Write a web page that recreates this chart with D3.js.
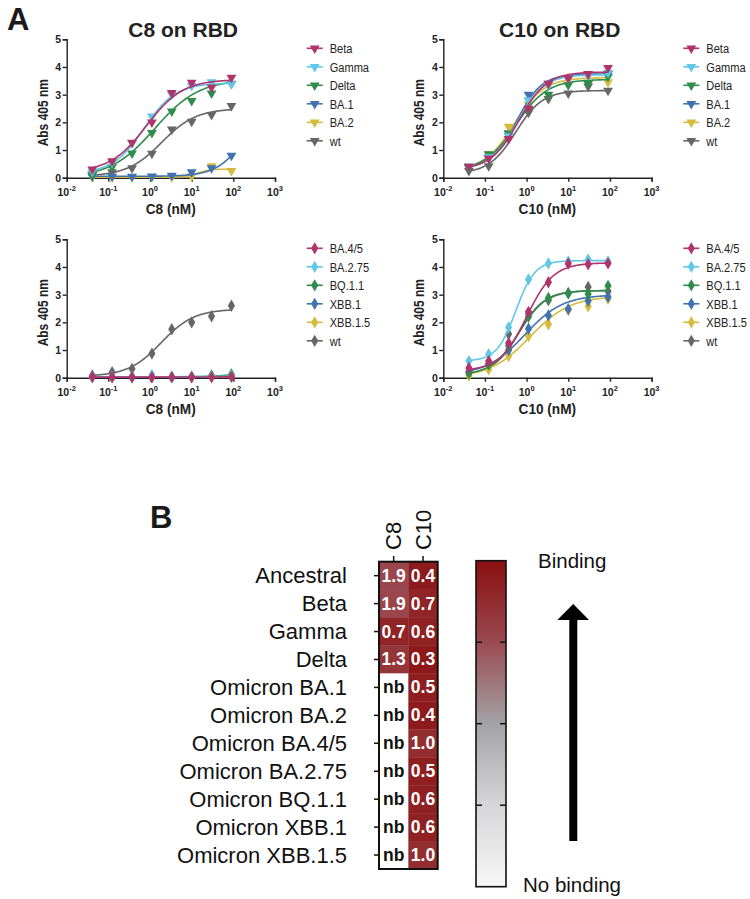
<!DOCTYPE html>
<html><head><meta charset="utf-8">
<script src="https://cdn.jsdelivr.net/npm/d3@7"></script>
<style>body{margin:0;background:#fff} svg{display:block} text{font-family:"Liberation Sans",Arial,Helvetica,sans-serif}</style>
</head><body><svg id="c" width="750" height="899"></svg>
<script>
// ---------- data ----------
const conc = [0.0412, 0.123, 0.37, 1.11, 3.33, 10, 30, 90];
const xTicks = [0.01, 0.1, 1, 10, 100, 1000];
const xTickExp = ["-2", "-1", "0", "1", "2", "3"];
const yTicks = [0, 1, 2, 3, 4, 5];
const colors = ["#b0346c", "#62c6e6", "#2f8c4c", "#3f72ae", "#d6bb3c", "#666666"];
const namesTop = ["Beta", "Gamma", "Delta", "BA.1", "BA.2", "wt"];
const namesBottom = ["BA.4/5", "BA.2.75", "BQ.1.1", "XBB.1", "XBB.1.5", "wt"];

// C8 on RBD
const c8Top = [
  [0.30, 0.60, 1.27, 2.00, 3.07, 3.44, 3.26, 3.62],
  [0.22, 0.55, 1.25, 2.22, 3.00, 3.32, 3.45, 3.38],
  [0.10, 0.38, 0.88, 1.62, 2.40, 2.78, 3.05, 3.40],
  [0.05, 0.04, 0.04, 0.05, 0.08, 0.20, 0.35, 0.80],
  [0.02, 0.02, 0.02, 0.03, 0.03, 0.06, 0.42, 0.25],
  [0.12, 0.20, 0.35, 0.87, 1.75, 2.03, 2.27, 2.60]
];
// fit parameters: bottom, top, EC50, hill
const c8TopFit = [[0.2, 3.55, 0.82, 1.0], [0.15, 3.42, 0.72, 1.15], [0.0, 3.55, 1.3, 0.82],
  [0.05, 3.0, 212, 1.25], [0.02, 0.31, 14, 3], [0.05, 2.5, 1.9, 1.05]];

// C10 on RBD
const c10Top = [
  [0.40, 0.70, 1.40, 2.50, 3.40, 3.60, 3.75, 3.97],
  [0.40, 0.75, 1.50, 2.80, 3.35, 3.60, 3.72, 3.80],
  [0.35, 0.85, 1.60, 2.45, 3.00, 3.35, 3.40, 3.65],
  [0.40, 0.70, 1.50, 3.00, 3.40, 3.60, 3.70, 3.75],
  [0.40, 0.85, 1.85, 2.65, 3.35, 3.55, 3.75, 3.45],
  [0.25, 0.42, 1.60, 2.35, 2.85, 3.05, 3.30, 3.15]
];
const c10TopFit = [[0.3, 3.82, 0.65, 1.3], [0.3, 3.72, 0.6, 1.35], [0.25, 3.55, 0.55, 1.15],
  [0.35, 3.75, 0.58, 1.45], [0.25, 3.62, 0.5, 1.2], [0.15, 3.15, 0.55, 1.35]];

// C8 on Omicron
const c8Bottom = [
  [0.03, 0.02, 0.02, 0.02, 0.02, 0.02, 0.02, 0.03],
  [0.04, 0.03, 0.03, 0.10, 0.03, 0.03, 0.04, 0.06],
  [0.03, 0.03, 0.03, 0.03, 0.03, 0.04, 0.08, 0.12],
  [0.03, 0.02, 0.02, 0.03, 0.02, 0.03, 0.05, 0.08],
  [0.02, 0.02, 0.02, 0.02, 0.02, 0.02, 0.03, 0.05],
  [0.08, 0.20, 0.32, 0.87, 1.75, 2.00, 2.22, 2.60]
];
const c8BottomFit = [[0.02, 0.03, 10, 1], [0.03, 0.05, 10, 1], [0.03, 0.3, 200, 1.2],
  [0.02, 0.2, 200, 1.2], [0.02, 0.1, 200, 1.2], [0.05, 2.48, 1.85, 1.1]];

// C10 on Omicron
const c10Bottom = [
  [0.35, 0.60, 1.25, 2.38, 3.45, 4.12, 4.10, 4.13],
  [0.60, 0.85, 1.82, 3.55, 4.13, 4.20, 4.27, 4.20],
  [0.15, 0.48, 1.15, 2.20, 2.88, 3.05, 3.02, 3.32],
  [0.20, 0.50, 1.00, 1.77, 2.25, 2.48, 2.78, 2.92],
  [0.08, 0.30, 0.78, 1.50, 1.93, 2.45, 2.58, 2.85],
  [0.22, 0.50, 1.58, 2.30, 2.80, 3.05, 3.28, 3.12]
];
const c10BottomFit = [[0.25, 4.15, 1.0, 1.35], [0.6, 4.23, 0.55, 1.9], [0.1, 3.15, 0.65, 1.35],
  [0.1, 3.0, 0.9, 0.95], [0.0, 2.95, 1.2, 0.9], [0.1, 3.15, 0.65, 1.4]];

// Heatmap (EC50, nM)
const variants = ["Ancestral", "Beta", "Gamma", "Delta", "Omicron BA.1", "Omicron BA.2",
  "Omicron BA.4/5", "Omicron BA.2.75", "Omicron BQ.1.1", "Omicron XBB.1", "Omicron XBB.1.5"];
const antibodies = ["C8", "C10"];
const ec50C8 = [1.9, 1.9, 0.7, 1.3, null, null, null, null, null, null, null];
const ec50C10 = [0.4, 0.7, 0.6, 0.3, 0.5, 0.4, 1.0, 0.5, 0.6, 0.6, 1.0];
const colorDomain = [0, 2, 4, 6, 8];
const colorRange = ["#8a0f10", "#9a4a50", "#a3a3a7", "#d6d6d8", "#f7f7f7"];

// ---------- drawing ----------
const svg = d3.select("#c");
const FONT = '"Liberation Sans",Arial,Helvetica,sans-serif';

function fourPL(p, x) { return p[0] + (p[1] - p[0]) / (1 + Math.pow(p[2] / x, p[3])); }

function panel(o) {
  const g = svg.append("g");
  const x = d3.scaleLog().domain([0.01, 1000]).range([o.x0, o.x0 + 208.3]);
  const y = d3.scaleLinear().domain([0, 5]).range([o.y0, o.y0 - 138.4]);

  // axes
  const xa = g.append("g").attr("transform", `translate(0,${o.y0})`)
    .call(d3.axisBottom(x).tickValues(xTicks).tickSize(4).tickFormat(""));
  const ya = g.append("g").attr("transform", `translate(${o.x0},0)`)
    .call(d3.axisLeft(y).tickValues(yTicks).tickSize(4).tickFormat(d3.format("d")));
  [xa, ya].forEach(a => {
    a.select(".domain").attr("stroke", "#222").attr("stroke-width", 1.4);
    a.selectAll(".tick line").attr("stroke", "#222").attr("stroke-width", 1.4);
  });
  ya.selectAll(".tick text").attr("font-family", FONT).attr("font-weight", "bold")
    .attr("font-size", 10.5).attr("fill", "#222").attr("x", -5.5);
  xTicks.forEach((t, i) => {
    const tx = g.append("text").attr("x", x(t)).attr("y", o.y0 + 18)
      .attr("text-anchor", "middle").attr("font-weight", "bold").attr("font-size", 10.5).attr("fill", "#222");
    tx.append("tspan").text("10");
    tx.append("tspan").attr("dy", -4.5).attr("font-size", 7.5).text(xTickExp[i]);
  });

  // labels
  g.append("text").attr("transform", `translate(${o.x0 + 104},${o.y0 + 36}) scale(0.88,1)`).attr("text-anchor", "middle")
    .attr("font-weight", "bold").attr("font-size", 15.5).attr("fill", "#222").text(o.xLabel);
  g.append("text").attr("transform", `translate(${o.x0 - 19},${o.y0 - 65}) rotate(-90) scale(0.8,1)`)
    .attr("text-anchor", "middle").attr("font-weight", "bold").attr("font-size", 15).attr("fill", "#222")
    .text("Abs 405 nm");
  if (o.title) g.append("text").attr("x", o.x0 + 116.5).attr("y", o.y0 - 141).attr("text-anchor", "middle")
    .attr("font-weight", "bold").attr("font-size", 21).attr("fill", "#222").text(o.title);

  const sym = o.diamond ? d3.symbol(d3.symbolDiamond, 44) : d3.symbol(d3.symbolTriangle, 42);
  const rot = o.diamond ? "" : " rotate(180)";
  const line = d3.line().x(d => x(d[0])).y(d => y(d[1]));
  const lx0 = Math.log10(0.041), lx1 = Math.log10(90);
  const xs = d3.range(0, 201).map(i => Math.pow(10, lx0 + (lx1 - lx0) * i / 200));

  // draw last series first so the first-listed series sits on top
  d3.range(o.values.length - 1, -1, -1).forEach(si => {
    const vals = o.values[si];
    const c = colors[si];
    g.append("path").attr("d", line(xs.map(v => [v, fourPL(o.fits[si], v)])))
      .attr("fill", "none").attr("stroke", c).attr("stroke-width", 1.6);
    g.selectAll(null).data(vals).enter().append("path")
      .attr("d", sym).attr("fill", c)
      .attr("transform", (d, i) => `translate(${x(conc[i])},${y(d)})${rot}`);
  });

  // legend
  o.names.forEach((n, i) => {
    const ly = o.y0 - 129.4 + i * 18.5;
    const lx = o.x0 + 248;
    g.append("line").attr("x1", lx - 8).attr("x2", lx + 8).attr("y1", ly).attr("y2", ly)
      .attr("stroke", colors[i]).attr("stroke-width", 1.6);
    g.append("path").attr("d", sym).attr("fill", colors[i]).attr("transform", `translate(${lx},${ly})${rot}`);
    g.append("text").attr("transform", `translate(${lx + 15},${ly + 4.8}) scale(0.82,1)`)
      .attr("font-size", 13.5).attr("fill", "#222").text(n);
  });
}

panel({ x0: 66.7, y0: 177.7, title: "C8 on RBD", xLabel: "C8 (nM)", names: namesTop, values: c8Top, fits: c8TopFit });
panel({ x0: 443.3, y0: 177.7, title: "C10 on RBD", xLabel: "C10 (nM)", names: namesTop, values: c10Top, fits: c10TopFit });
panel({ x0: 66.7, y0: 377.7, xLabel: "C8 (nM)", names: namesBottom, values: c8Bottom, fits: c8BottomFit, diamond: true });
panel({ x0: 443.3, y0: 377.7, xLabel: "C10 (nM)", names: namesBottom, values: c10Bottom, fits: c10BottomFit, diamond: true });

svg.append("text").attr("x", 7).attr("y", 30).attr("font-weight", "bold").attr("font-size", 31).attr("fill", "#1a1a1a").text("A");
svg.append("text").attr("x", 150).attr("y", 528).attr("font-weight", "bold").attr("font-size", 31).attr("fill", "#1a1a1a").text("B");

// ---------- heatmap ----------
const color = d3.scaleLinear().domain(colorDomain).range(colorRange).interpolate(d3.interpolateRgb);
const hx = d3.scaleBand().domain(antibodies).range([379, 437.7]);
const hy = d3.scaleBand().domain(variants).range([561.7, 869]);
const hg = svg.append("g");
const cols = [ec50C8, ec50C10];
cols.forEach((arr, ci) => {
  arr.forEach((v, ri) => {
    const ab = antibodies[ci], vr = variants[ri];
    hg.append("rect").attr("x", hx(ab)).attr("y", hy(vr)).attr("width", hx.bandwidth() + 0.3).attr("height", hy.bandwidth() + 0.3)
      .attr("fill", v == null ? "#ffffff" : color(v));
    hg.append("text").attr("x", hx(ab) + hx.bandwidth() / 2).attr("y", hy(vr) + hy.bandwidth() / 2 + 6)
      .attr("text-anchor", "middle").attr("font-weight", "bold").attr("font-size", 17.5)
      .attr("fill", v == null ? "#111" : "#ffffff").text(v == null ? "nb" : v.toFixed(1));
  });
});
hg.append("rect").attr("x", 379).attr("y", 561.7).attr("width", 58.7).attr("height", 307.3)
  .attr("fill", "none").attr("stroke", "#111").attr("stroke-width", 2);
variants.forEach(v => {
  const cy = hy(v) + hy.bandwidth() / 2;
  hg.append("line").attr("x1", 374).attr("x2", 379).attr("y1", cy).attr("y2", cy).attr("stroke", "#111").attr("stroke-width", 1.5);
  hg.append("text").attr("x", 347).attr("y", cy + 7.8).attr("text-anchor", "end").attr("font-size", 22).attr("fill", "#111").text(v);
});
antibodies.forEach(a => {
  const cx = hx(a) + hx.bandwidth() / 2;
  hg.append("line").attr("x1", cx).attr("x2", cx).attr("y1", 556).attr("y2", 561.7).attr("stroke", "#111").attr("stroke-width", 1.5);
  hg.append("text").attr("transform", `translate(${cx + 7.8},550) rotate(-90)`).attr("font-size", 22).attr("fill", "#111").text(a);
});

// ---------- color bar ----------
const defs = svg.append("defs");
const grad = defs.append("linearGradient").attr("id", "cb").attr("x1", 0).attr("x2", 0).attr("y1", 0).attr("y2", 1);
colorDomain.forEach((d, i) => grad.append("stop").attr("offset", (d - colorDomain[0]) / (colorDomain[4] - colorDomain[0])).attr("stop-color", colorRange[i]));
const cbY = d3.scaleLinear().domain([colorDomain[0], colorDomain[4]]).range([560.7, 886.7]);
svg.append("rect").attr("x", 476).attr("y", cbY(0)).attr("width", 30).attr("height", cbY(8) - cbY(0))
  .attr("fill", "url(#cb)").attr("stroke", "#111").attr("stroke-width", 1.6);
colorDomain.slice(1, 4).forEach(d => {
  svg.append("line").attr("x1", 476).attr("x2", 482).attr("y1", cbY(d)).attr("y2", cbY(d)).attr("stroke", "#111").attr("stroke-width", 1.5);
  svg.append("line").attr("x1", 500).attr("x2", 506).attr("y1", cbY(d)).attr("y2", cbY(d)).attr("stroke", "#111").attr("stroke-width", 1.5);
});
svg.append("text").attr("x", 538).attr("y", 568).attr("font-size", 20.5).attr("fill", "#111").text("Binding");
svg.append("text").attr("x", 523).attr("y", 892).attr("font-size", 20.5).attr("fill", "#111").text("No binding");
svg.append("rect").attr("x", 569.3).attr("y", 618).attr("width", 8).attr("height", 223).attr("fill", "#000");
svg.append("path").attr("d", "M557.3,620 L589,620 L573.2,604 Z").attr("fill", "#000");
</script></body></html>
